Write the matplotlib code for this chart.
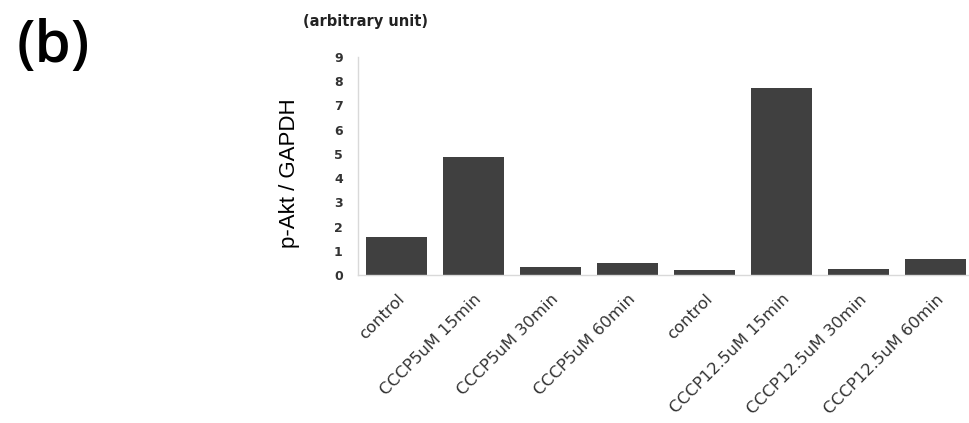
import matplotlib
matplotlib.use("Agg")
import matplotlib.pyplot as plt

# p-Akt / GAPDH
labels = ["control", "CCCP5uM 15min", "CCCP5uM 30min", "CCCP5uM 60min",
          "control", "CCCP12.5uM 15min", "CCCP12.5uM 30min", "CCCP12.5uM 60min"]
values = [1.57, 4.88, 0.33, 0.50, 0.20, 7.70, 0.25, 0.66]
yticks = list(range(0, 10))

plt.rcParams['font.family'] = ['DejaVu Sans']

fig = plt.figure(figsize=(9.69, 4.23), dpi=100)
# plot area runs past the right edge, like the cropped original
ax = fig.add_axes([0.3695, 0.35, 0.636, 0.5154])

x = range(len(values))
ax.bar(x, values, width=0.79, color="#404040")

ax.set_xlim(-0.5, len(values) - 0.5)
ax.set_ylim(0, 9)
ax.set_yticks(yticks)
ax.set_yticklabels([str(t) for t in yticks], fontsize=9, fontweight="bold", color="#333333")
ax.set_xticks(list(x))
ax.set_xticklabels(labels, rotation=45, ha="right", rotation_mode="anchor",
                   fontsize=11.8, color="#333333")
ax.tick_params(axis="y", length=0, pad=11)
ax.tick_params(axis="x", length=0, pad=12)

for s in ["top", "right"]:
    ax.spines[s].set_visible(False)
for s in ["left", "bottom"]:
    ax.spines[s].set_color("#d9d9d9")
    ax.spines[s].set_linewidth(1)

ax.set_ylabel("p-Akt / GAPDH", family="Liberation Sans", fontsize=16)
ax.yaxis.set_label_coords(-0.094, 0.466)
fig.text(0.377, 0.948, "(arbitrary unit)", ha="center", va="center",
         fontsize=10.5, fontweight="bold", color="#222222")
fig.text(0.017, 0.888, "(b)", ha="left", va="center", fontsize=42,
         family="Open Sans", fontweight="semibold")

fig.savefig("out.png", dpi=100)
